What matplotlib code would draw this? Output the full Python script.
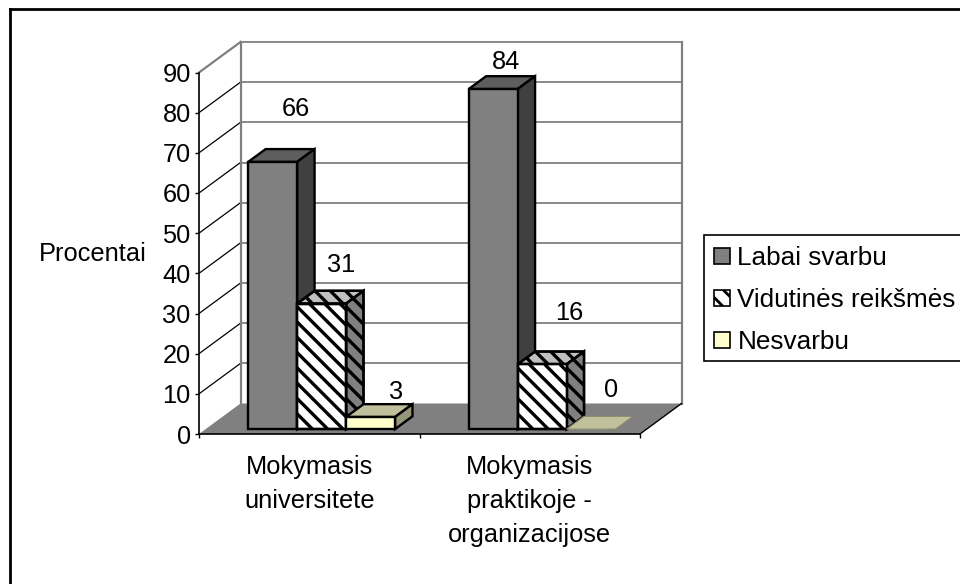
import matplotlib
matplotlib.use("Agg")
import matplotlib.pyplot as plt
from matplotlib.lines import Line2D
from matplotlib.patches import Patch, Polygon, Rectangle

# values
categories = ['Mokymasis\nuniversitete', 'Mokymasis\npraktikoje -\norganizacijose']
series_names = ['Labai svarbu', 'Vidutinės reikšmės', 'Nesvarbu']
labai_svarbu = [66, 84]
vidutines = [31, 16]
nesvarbu = [3, 0]
y_ticks = list(range(0, 100, 10))

# pixel offsets of the value labels from the top of each bar
label_offsets = {
    (0, 0): (23, 53), (0, 1): (20, 39), (0, 2): (25, 25),
    (1, 0): (13, 27), (1, 1): (27, 51), (1, 2): (20, 39),
}

W, H = 960, 584
FONT = 18.3
plt.rcParams['font.family'] = ['Liberation Sans', 'DejaVu Sans']
plt.rcParams['hatch.linewidth'] = 2.0

fig = plt.figure(figsize=(W / 100, H / 100), dpi=100)
left, right, bottom, top = 199, 640, 434, 72.5
ax = fig.add_axes([left / W, 1 - bottom / H, (right - left) / W, (bottom - top) / H])
ax.set_xlim(0, 2)
ax.set_ylim(0, 90)
ax.patch.set_visible(False)

px_x = 2 / (right - left)
px_y = 90 / (bottom - top)
DEPTH_X = 41.5 * px_x
DEPTH_Y = 30.5 * px_y
BAR_W = 0.222
BAR_START = 0.193
BAR_STRETCH = 1.008


def project(x, v, d):
    return (x + d * DEPTH_X, v + d * DEPTH_Y)


def face(points, color, edge='black', lw=1.7, z=3):
    p = Polygon(points, closed=True, facecolor=color, edgecolor=edge, linewidth=lw,
                joinstyle='miter', zorder=z, clip_on=False)
    ax.add_patch(p)
    return p


def stripes(patch, x0, x1, v0, v1, z):
    # thick diagonal hatch, clipped to the face
    step = 15.3 * px_x
    span = (v1 - v0) / px_y * px_x
    x = x0
    while x < x1 + span:
        ln, = ax.plot([x - span, x], [v1, v0], color='black', lw=2.4,
                      solid_capstyle='butt', zorder=z)
        ln.set_clip_path(patch)
        x += step


def draw_bar(x0, value, styles, striped):
    x1 = x0 + BAR_W
    d0, d1 = 0.16, 0.58
    v = value * BAR_STRETCH
    front = [project(x0, 0, d0), project(x1, 0, d0), project(x1, v, d0), project(x0, v, d0)]
    side = [project(x1, 0, d0), project(x1, 0, d1), project(x1, v, d1), project(x1, v, d0)]
    roof = [project(x0, v, d0), project(x1, v, d0), project(x1, v, d1), project(x0, v, d1)]
    if value == 0:
        face(roof, styles[1], edge='#8a8a70', lw=0.8)
        return
    for pts, col in ((roof, styles[1]), (side, styles[2]), (front, styles[0])):
        p = face(pts, col)
        if striped:
            xs = [q[0] for q in pts]
            vs = [q[1] for q in pts]
            stripes(p, min(xs), max(xs), min(vs), max(vs), 3)
            face(pts, 'none')


# walls and floor
floor = [project(0, 0, 0), project(2, 0, 0), project(2, 0, 1), project(0, 0, 1)]
face(floor, '#808080', edge='none', lw=0, z=1)
for t in y_ticks[1:]:
    ax.plot(*zip(project(0, t, 1), project(2, t, 1)), color='#808080', lw=1.3, zorder=1.5, clip_on=False)
    if t < 90:
        ax.plot(*zip(project(0, t, 0), project(0, t, 1)), color='black', lw=0.9, zorder=1.5, clip_on=False)
ax.plot(*zip(project(0, 90, 0), project(0, 90, 1)), color='#808080', lw=1.6, zorder=1.5, clip_on=False)
ax.plot(*zip(project(0, 0, 1), project(0, 90, 1)), color='#808080', lw=1.6, zorder=1.5, clip_on=False)
ax.plot(*zip(project(2, 0, 1), project(2, 90, 1)), color='#808080', lw=1.6, zorder=1.5, clip_on=False)
ax.plot(*zip(project(2, 0, 0), project(2, 0, 1)), color='black', lw=1.0, zorder=1.5, clip_on=False)

# bars
bar_styles = [('#808080', '#5e5e5e', '#404040'),
              ('#ffffff', '#c0c0c0', '#808080'),
              ('#ffffcc', '#c0c09c', '#96967a')]
series = [labai_svarbu, vidutines, nesvarbu]
for c in range(len(categories)):
    for s, values in enumerate(series):
        x0 = c + BAR_START + s * BAR_W
        draw_bar(x0, values[c], bar_styles[s], s == 1)
        top_pt = project(x0 + BAR_W / 2, values[c] * BAR_STRETCH, 0.16)
        ax.annotate(str(values[c]), top_pt, xytext=label_offsets[(c, s)], textcoords='offset pixels',
                    ha='center', va='center', fontsize=FONT, color='black', zorder=5)

# axes
for name in ('top', 'right'):
    ax.spines[name].set_visible(False)
for name in ('left', 'bottom'):
    ax.spines[name].set_color('black')
    ax.spines[name].set_linewidth(1.2)
    ax.spines[name].set_zorder(4)
ax.set_yticks(y_ticks)
ax.tick_params(axis='y', length=3, width=1.0, pad=3, labelsize=FONT)
ax.set_xticks([0, 1, 2], minor=True)
ax.set_xticks([0.5, 1.5])
ax.set_xticklabels(categories, fontsize=FONT, linespacing=1.52)
ax.tick_params(axis='x', which='major', length=0, pad=15)
ax.tick_params(axis='x', which='minor', length=3, width=1.0)
fig.text(39 / W, 1 - 254 / H, 'Procentai', fontsize=FONT, ha='left', va='center')

# legend, its frame drawn by hand so the box runs off the right edge
fig.add_artist(Rectangle((704 / W, 1 - 361 / H), 270 / W, 126 / H, transform=fig.transFigure,
                         facecolor='white', edgecolor='black', linewidth=1.2))
handles = [Patch(facecolor='#808080', edgecolor='black', linewidth=1.2),
           Patch(facecolor='white', edgecolor='black', linewidth=1.2, hatch='\\\\'),
           Patch(facecolor='#ffffcc', edgecolor='black', linewidth=1.2)]
leg = fig.legend(handles, series_names, loc='upper left',
                 bbox_to_anchor=(704 / W, 1 - 236 / H), bbox_transform=fig.transFigure,
                 fontsize=18.8, frameon=False, borderaxespad=0, borderpad=0.4,
                 handlelength=0.58, handleheight=0.58, handletextpad=0.3, labelspacing=0.68)

# outer chart border runs off the right and bottom edges
fig.add_artist(Line2D([10 / W, 10 / W], [0, 1 - 9 / H], color='black', lw=2.0))
fig.add_artist(Line2D([10 / W, 1], [1 - 9 / H, 1 - 9 / H], color='black', lw=2.0))

fig.savefig('out.png', dpi=100)
